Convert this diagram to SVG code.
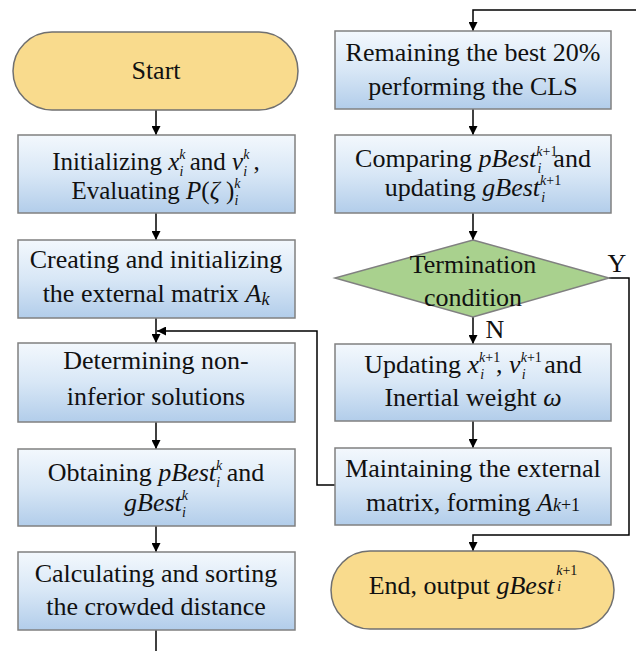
<svg xmlns="http://www.w3.org/2000/svg" width="636" height="651" viewBox="0 0 636 651" font-family="'Liberation Serif', 'DejaVu Serif', serif">
<defs>
<linearGradient id="blue" x1="0" y1="0" x2="0" y2="1">
<stop offset="0" stop-color="#F3F8FD"/>
<stop offset="0.5" stop-color="#D8E7F6"/>
<stop offset="1" stop-color="#B2CDEA"/>
</linearGradient>
<marker id="arr" viewBox="0 0 10 10" refX="10" refY="5" markerWidth="9" markerHeight="9" markerUnits="userSpaceOnUse" orient="auto">
<path d="M0,0 L10,5 L0,10 Z" fill="#000"/>
</marker>
<style>
.box{fill:url(#blue);stroke:#808080;stroke-width:1.5}
.term{fill:#F9DB8D;stroke:#707070;stroke-width:1.5}
.dia{fill:#A9D18E;stroke:#808080;stroke-width:1.5}
.t{font-family:'Liberation Serif','DejaVu Serif',serif;font-size:26px;fill:#111;text-anchor:middle}
.it{font-style:italic}
.sm{font-size:14px}
.con{fill:none;stroke:#000;stroke-width:1.5}
</style>
</defs>
<g id="connectors">
<path class="con" d="M156,110 V135" marker-end="url(#arr)"/>
<path class="con" d="M156,213 V240" marker-end="url(#arr)"/>
<path class="con" d="M156,318 V343" marker-end="url(#arr)"/>
<path class="con" d="M156,422 V449" marker-end="url(#arr)"/>
<path class="con" d="M156,526 V552" marker-end="url(#arr)"/>
<path class="con" d="M156,630 V651"/>
<path class="con" d="M636,10 H473 V31" marker-end="url(#arr)"/>
<path class="con" d="M473,109 V135" marker-end="url(#arr)"/>
<path class="con" d="M473,213 V240" marker-end="url(#arr)"/>
<path class="con" d="M473,317 V344" marker-end="url(#arr)"/>
<path class="con" d="M473,421 V448" marker-end="url(#arr)"/>
<path class="con" d="M609,278 H629 V535 H473 V551" marker-end="url(#arr)"/>
<path class="con" d="M335,485 H317 V331 H157" marker-end="url(#arr)"/>
<text class="t" x="617" y="272">Y</text>
<text class="t" x="495" y="338">N</text>
</g>
<g id="start">
<rect class="term" x="13" y="32" width="285" height="78" rx="39" ry="39"/>
<text class="t" x="156" y="79">Start</text>
</g>
<g id="init">
<rect class="box" x="18" y="135" width="277" height="78"/>
<text class="t" x="156" y="170" style="font-size:25px">Initializing  <tspan class="it">x</tspan><tspan class="it sm" dy="-11">k</tspan><tspan class="it sm" dx="-6" dy="17">i</tspan><tspan dy="-6"> and </tspan><tspan class="it">v</tspan><tspan class="it sm" dy="-11">k</tspan><tspan class="it sm" dx="-6" dy="17">i</tspan><tspan dy="-6"> ,</tspan></text>
<text class="t" x="156" y="199" style="font-size:25px">Evaluating <tspan class="it">P</tspan>(<tspan class="it">ζ</tspan> )<tspan class="it sm" dy="-11">k</tspan><tspan class="it sm" dx="-6" dy="17">i</tspan></text>
</g>
<g id="create">
<rect class="box" x="18" y="240" width="277" height="78"/>
<text class="t" x="156" y="268">Creating and initializing</text>
<text class="t" x="156" y="302">the external matrix <tspan class="it">A</tspan><tspan class="it" style="font-size:18px" dy="3">k</tspan></text>
</g>
<g id="determine">
<rect class="box" x="18" y="343" width="277" height="79"/>
<text class="t" x="156" y="369">Determining non-</text>
<text class="t" x="156" y="405">inferior solutions</text>
</g>
<g id="obtain">
<rect class="box" x="18" y="449" width="277" height="77"/>
<text class="t" x="156" y="481">Obtaining <tspan class="it">pBest</tspan><tspan class="it sm" dy="-11">k</tspan><tspan class="it sm" dx="-6" dy="17">i</tspan><tspan dy="-6"> and</tspan></text>
<text class="t" x="156" y="511"><tspan class="it">gBest</tspan><tspan class="it sm" dy="-11">k</tspan><tspan class="it sm" dx="-6" dy="17">i</tspan></text>
</g>
<g id="calc">
<rect class="box" x="18" y="552" width="277" height="78"/>
<text class="t" x="156" y="582">Calculating and sorting</text>
<text class="t" x="156" y="615">the crowded distance</text>
</g>
<g id="remain">
<rect class="box" x="335" y="31" width="276" height="78"/>
<text class="t" x="473" y="61">Remaining the best 20%</text>
<text class="t" x="473" y="95">performing the CLS</text>
</g>
<g id="compare">
<rect class="box" x="335" y="135" width="276" height="78"/>
<text class="t" x="473" y="167">Comparing  <tspan class="it">pBest</tspan><tspan class="sm" dy="-11"><tspan class="it">k</tspan>+1</tspan><tspan class="it sm" dx="-20" dy="17">i</tspan><tspan dx="12" dy="-6">and</tspan></text>
<text class="t" x="473" y="196">updating <tspan class="it">gBest</tspan><tspan class="sm" dy="-11"><tspan class="it">k</tspan>+1</tspan><tspan class="it sm" dx="-20" dy="17">i</tspan><tspan dx="12" dy="-6"> </tspan></text>
</g>
<g id="termination">
<polygon class="dia" points="473,240 609,278 473,317 335,278"/>
<text class="t" x="473" y="273">Termination</text>
<text class="t" x="473" y="306">condition</text>
</g>
<g id="update">
<rect class="box" x="335" y="344" width="276" height="77"/>
<text class="t" x="473" y="373">Updating <tspan class="it">x</tspan><tspan class="sm" dy="-11"><tspan class="it">k</tspan>+1</tspan><tspan class="it sm" dx="-20" dy="17">i</tspan><tspan dx="12" dy="-6">, </tspan><tspan class="it">v</tspan><tspan class="sm" dy="-11"><tspan class="it">k</tspan>+1</tspan><tspan class="it sm" dx="-20" dy="17">i</tspan><tspan dx="12" dy="-6"> and</tspan></text>
<text class="t" x="473" y="406">Inertial weight <tspan class="it">ω</tspan></text>
</g>
<g id="maintain">
<rect class="box" x="335" y="448" width="276" height="77"/>
<text class="t" x="473" y="477">Maintaining the external</text>
<text class="t" x="473" y="511">matrix, forming <tspan class="it">A</tspan><tspan style="font-size:18px"><tspan class="it">k</tspan>+1</tspan></text>
</g>
<g id="end">
<rect class="term" x="331" y="551" width="283" height="78" rx="39" ry="39"/>
<text class="t" x="473" y="594">End, output <tspan class="it">gBest</tspan><tspan class="sm" dx="2" dy="-19"><tspan class="it">k</tspan>+1</tspan><tspan class="it sm" dx="-20" dy="16">i</tspan></text>
</g>
</svg>
